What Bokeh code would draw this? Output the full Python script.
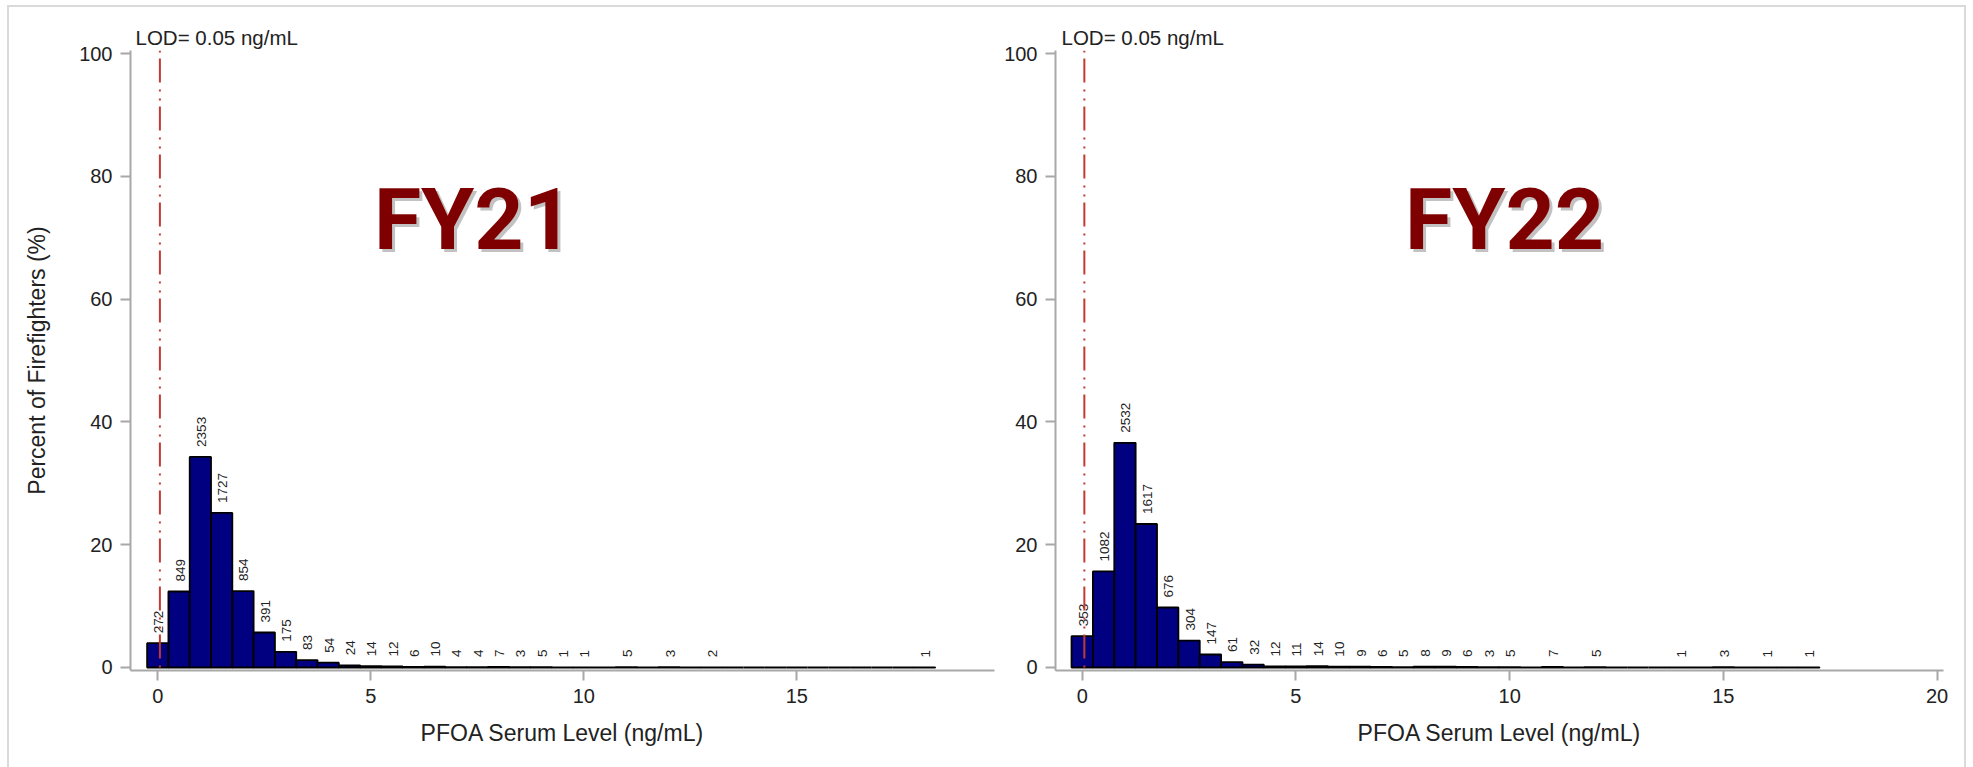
import math
from bokeh.plotting import figure
from bokeh.layouts import row
from bokeh.models import Range1d, Label, FixedTicker, Span, ColumnDataSource
from bokeh.embed import file_html
from bokeh.resources import INLINE
from bokeh.core.properties import value

# ---------------- data ----------------
lod_value = 0.05
lod_text = "LOD= 0.05 ng/mL"
x_label = "PFOA Serum Level (ng/mL)"
y_label = "Percent of Firefighters (%)"
y_ticks = [0, 20, 40, 60, 80, 100]

fy21_title = "FY21"
fy21_bins = [0.0, 0.5, 1.0, 1.5, 2.0, 2.5, 3.0, 3.5, 4.0, 4.5, 5.0, 5.5, 6.0, 6.5,
             7.0, 7.5, 8.0, 8.5, 9.0, 9.5, 10.0, 10.5, 11.0, 11.5, 12.0, 12.5, 13.0,
             13.5, 14.0, 14.5, 15.0, 15.5, 16.0, 16.5, 17.0, 17.5, 18.0]
fy21_counts = [272, 849, 2353, 1727, 854, 391, 175, 83, 54, 24, 14, 12, 6, 10,
               4, 4, 7, 3, 5, 1, 1, 0, 5, 0, 3, 0, 2,
               0, 0, 0, 0, 0, 0, 0, 0, 0, 1]
fy21_pct = [3.96, 12.38, 34.30, 25.17, 12.45, 5.70, 2.55, 1.21, 0.79, 0.35, 0.20, 0.17, 0.09, 0.15,
            0.06, 0.06, 0.10, 0.04, 0.07, 0.01, 0.01, 0.0, 0.07, 0.0, 0.04, 0.0, 0.03,
            0.0, 0.0, 0.0, 0.0, 0.0, 0.0, 0.0, 0.0, 0.0, 0.01]
fy21_xticks = [0, 5, 10, 15]

fy22_title = "FY22"
fy22_bins = [0.0, 0.5, 1.0, 1.5, 2.0, 2.5, 3.0, 3.5, 4.0, 4.5, 5.0, 5.5, 6.0, 6.5,
             7.0, 7.5, 8.0, 8.5, 9.0, 9.5, 10.0, 10.5, 11.0, 11.5, 12.0, 12.5, 13.0,
             13.5, 14.0, 14.5, 15.0, 15.5, 16.0, 16.5, 17.0]
fy22_counts = [353, 1082, 2532, 1617, 676, 304, 147, 61, 32, 12, 11, 14, 10, 9,
               6, 5, 8, 9, 6, 3, 5, 0, 7, 0, 5, 0, 0,
               0, 1, 0, 3, 0, 1, 0, 1]
fy22_pct = [5.10, 15.64, 36.59, 23.37, 9.77, 4.39, 2.12, 0.88, 0.46, 0.17, 0.16, 0.20, 0.14, 0.13,
            0.09, 0.07, 0.12, 0.13, 0.09, 0.04, 0.07, 0.0, 0.10, 0.0, 0.07, 0.0, 0.0,
            0.0, 0.01, 0.0, 0.04, 0.0, 0.01, 0.0, 0.01]
fy22_xticks = [0, 5, 10, 15, 20]

# ---------------- style ----------------
FONT = "Liberation Sans"
TITLE_FONT = "Roboto"
TXT = "#222222"
AXC = "#a8a8a8"
BAR = "#000080"
LODC = "#c23a32"
TITLEC = "#7f0000"


def panel(bins, counts, pct, title, title_x, xr, xticks, width, mbl, mbr, ylab):
    p = figure(width=width, height=760, title=lod_text,
               x_range=Range1d(xr[0], xr[1]), y_range=Range1d(-0.49, 100.49),
               output_backend="svg", toolbar_location=None,
               min_border_left=mbl, min_border_right=mbr,
               min_border_top=43, min_border_bottom=97)
    p.grid.visible = False
    p.outline_line_color = None
    p.background_fill_color = "white"
    p.border_fill_color = "white"

    p.title.align = "left"
    p.title.offset = 5
    p.title.standoff = 4
    p.title.text_font = FONT
    p.title.text_font_style = "normal"
    p.title.text_font_size = "20.5px"
    p.title.text_color = TXT

    for ax in (p.xaxis[0], p.yaxis[0]):
        ax.axis_line_color = AXC
        ax.axis_line_width = 2
        ax.major_tick_line_color = AXC
        ax.major_tick_line_width = 2
        ax.major_tick_out = 10
        ax.major_tick_in = 0
        ax.minor_tick_line_color = None
        ax.major_label_text_font = FONT
        ax.major_label_text_font_size = "20px"
        ax.major_label_text_color = TXT
        ax.axis_label_text_font = FONT
        ax.axis_label_text_font_size = "23px"
        ax.axis_label_text_font_style = "normal"
        ax.axis_label_text_color = TXT
    p.xaxis.ticker = FixedTicker(ticks=xticks)
    p.yaxis.ticker = FixedTicker(ticks=y_ticks)
    p.xaxis.axis_label = x_label
    p.xaxis.major_label_standoff = 8
    p.xaxis.axis_label_standoff = 14
    p.yaxis.major_label_standoff = 8
    if ylab:
        p.yaxis.axis_label = ylab
        p.yaxis.axis_label_standoff = 26

    src = ColumnDataSource(dict(x=bins, top=pct))
    p.vbar(x="x", top="top", bottom=0, width=0.5, source=src,
           fill_color=BAR, line_color="black", line_width=1.8)

    lx = [b for b, c in zip(bins, counts) if c > 0]
    ly = [v for v, c in zip(pct, counts) if c > 0]
    lt = [str(c) for c in counts if c > 0]
    p.text(x=lx, y=ly, text=lt, angle=math.pi / 2, text_align="left",
           text_baseline="middle", x_offset=1, y_offset=-10,
           text_font=value(FONT), text_font_size="13.5px", text_color=TXT)

    p.add_layout(Span(location=lod_value, dimension="height", line_color=LODC,
                      line_width=2, line_dash="2 6 24 7 2 7"))

    p.add_layout(Label(x=title_x, y=72.9, x_offset=3, y_offset=-3, text=title,
                       text_align="center", text_baseline="alphabetic",
                       text_font=TITLE_FONT, text_font_style="bold",
                       text_font_size="86px", text_color="#777777", text_alpha=0.45))
    p.add_layout(Label(x=title_x, y=72.9, text=title,
                       text_align="center", text_baseline="alphabetic",
                       text_font=TITLE_FONT, text_font_style="bold",
                       text_font_size="86px", text_color=TITLEC))
    return p


p1 = panel(fy21_bins, fy21_counts, fy21_pct, fy21_title, 7.41,
           (-0.64, 19.64), fy21_xticks, 991, 121, 6, y_label)
p2 = panel(fy22_bins, fy22_counts, fy22_pct, fy22_title, 9.88,
           (-0.625, 20.15), fy22_xticks, 964, 55, 21, None)
p2.title.offset = 6

layout = row(p1, p2, styles={"margin-left": "7px", "margin-top": "5px",
                             "border": "2px solid #dadada", "border-bottom": "none",
                             "background-color": "white"})

html = file_html(layout, INLINE)
html = html.replace("<body>", '<body style="margin:0;background:#fbfaf7">', 1)
open("out.html", "w").write(html)
